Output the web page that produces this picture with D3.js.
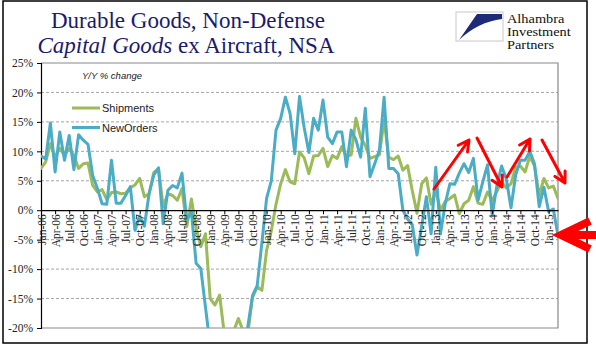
<!DOCTYPE html>
<html>
<head>
<meta charset="utf-8">
<script src="https://cdn.jsdelivr.net/npm/d3@7"></script>
<style>
  html, body { margin: 0; padding: 0; background: #ffffff; }
  svg { display: block; }
</style>
</head>
<body>
<svg id="chart" width="596" height="358"></svg>
<script>
// ---------------- DATA ----------------
const monthNames = ["Jan","Feb","Mar","Apr","May","Jun","Jul","Aug","Sep","Oct","Nov","Dec"];
const startYear = 2006, monthCount = 111; // Jan-06 .. Mar-15
const categories = [];
for (let k = 0; k < monthCount; k++) {
  const yr = startYear + Math.floor(k / 12);
  categories.push(monthNames[k % 12] + "-" + String(yr % 100).padStart(2, "0"));
}

const tickLabels = ["Jan-06","Apr-06","Jul-06","Oct-06","Jan-07","Apr-07","Jul-07","Oct-07",
  "Jan-08","Apr-08","Jul-08","Oct-08","Jan-09","Apr-09","Jul-09","Oct-09",
  "Jan-10","Apr-10","Jul-10","Oct-10","Jan-11","Apr-11","Jul-11","Oct-11",
  "Jan-12","Apr-12","Jul-12","Oct-12","Jan-13","Apr-13","Jul-13","Oct-13",
  "Jan-14","Apr-14","Jul-14","Oct-14","Jan-15"];

const yTicks = [-20, -15, -10, -5, 0, 5, 10, 15, 20, 25];
const gridValues = [-15, -10, -5, 5, 10, 15, 20];

const shipments = [
  7.1, 8.2, 11.3, 9.1, 10.5, 9.3, 10.5, 9.3, 7.1, 7.9, 8.0, 4.2,
  3.1, 3.5, 1.8, 3.0, 3.1, 2.8, 2.9, 3.8, 4.3, 5.4, 2.3, 2.8,
  6.4, 7.0, 0.6, 2.8, 2.5, 1.7, 3.7, -2.8, 1.9, -3.0, -6.2, -4.0,
  -15.0, -16.1, -14.4, -21, -22, -20.5, -18.4, -20.5, -21, -14.8, -13.0, -13.6,
  -6.8, -3.5, 1.0, 4.5, 6.9, 4.8, 4.5, 9.9, 8.9, 6.2, 9.2, 9.3,
  10.5, 7.4, 9.3, 8.8, 10.8, 9.1, 9.4, 15.6, 12.4, 11.0, 8.8, 9.1,
  9.4, 15.3, 9.0, 8.6, 9.2, 6.8, 7.6, 3.3, -0.5, 4.5, 5.5, 1.0,
  3.2, 0.0, 1.5, 2.0, 2.6, -0.6, 1.1, 1.7, 4.0, 1.2, 1.0, 3.1,
  1.7, 3.2, 4.8, 3.8, 4.5, 7.3, 7.5, 6.5, 9.2, 7.5, 2.5, 5.4,
  3.8, 4.1, 2.0
];

const newOrders = [
  9.2, 8.7, 14.8, 6.5, 13.3, 8.5, 12.7, 6.9, 12.8, 11.9, 11.2, 5.9,
  3.7, 1.1, 1.0, 8.5, 1.2, 1.2, 2.5, 4.0, -3.4, -1.0, -2.7, 2.8,
  6.0, 7.2, -2.3, 3.4, 4.2, 3.8, 6.3, -1.7, -0.3, -9.0, -9.9, -16.5,
  -23, -27, -30, -32, -33, -31, -28, -25, -19.8, -14.5, -12.8, -5.5,
  2.0, 5.0, 13.6, 15.6, 19.2, 16.4, 9.6, 19.3, 14.0, 9.8, 15.6, 13.6,
  18.7, 12.4, 11.3, 13.3, 13.3, 7.4, 13.6, 12.0, 9.0, 17.3, 5.7, 7.9,
  10.2, 19.2, 7.1, 7.1, 6.2, 0.0, -1.5, -2.5, -7.6, -2.7, 2.3, -4.0,
  7.3, -4.0, 1.1, 4.5, 4.4, 6.3, 7.9, 6.4, 8.8, 1.7, 4.8, 7.7,
  -0.8, 4.2, 7.5, 5.3, 0.4, 6.0, 8.5, 8.5, 10.0, 7.9, 0.6, 3.9,
  -0.2, 0.2, -4.3
];

const seriesNames = ["Shipments", "NewOrders"];
const seriesColors = ["#9BBB59", "#4BACC6"];
const logoLines = ["Alhambra", "Investment", "Partners"];

// ---------------- LAYOUT ----------------
const svg = d3.select("#chart");
const plot = { left: 41, right: 558, top: 63, bottom: 328 };

const x = d3.scalePoint().domain(categories).range([plot.left, plot.right]);
const y = d3.scaleLinear().domain([-20, 25]).range([plot.bottom, plot.top]);

// Outer frame
svg.append("rect").attr("x", 3).attr("y", 1).attr("width", 584).attr("height", 342)
  .attr("fill", "#fff").attr("stroke", "#000").attr("stroke-width", 1.5);

// Titles
const title = svg.append("g").attr("font-family", "'Liberation Serif', 'Times New Roman', serif")
  .attr("fill", "#1B1B6E");
title.append("text").attr("x", 188).attr("y", 28).attr("text-anchor", "middle")
  .attr("font-size", 23).text("Durable Goods, Non-Defense");
const t2 = title.append("text").attr("x", 186).attr("y", 53).attr("text-anchor", "middle")
  .attr("font-size", 23);
t2.append("tspan").attr("font-style", "italic").text("Capital Goods");
t2.append("tspan").text(" ex Aircraft, NSA");

// Logo
const logo = svg.append("g");
logo.append("rect").attr("x", 456).attr("y", 12).attr("width", 47).attr("height", 29)
  .attr("fill", "#fff").attr("stroke", "#c8c8c8").attr("stroke-width", 1);
logo.append("path")
  .attr("d", "M477,14 L502,14 L502,19 Q478,22 459,40 Z")
  .attr("fill", "#1C2A78");
const logoText = logo.append("text")
  .attr("transform", "translate(507,0) scale(1.25,1)")
  .attr("font-family", "'Liberation Serif', 'Times New Roman', serif")
  .attr("font-size", 11.5).attr("fill", "#111");
logoLines.forEach((t, k) => {
  logoText.append("tspan").attr("x", 0).attr("y", 23 + k * 12.8).text(t);
});

// Gridlines
svg.append("g").selectAll("line").data(gridValues).join("line")
  .attr("x1", plot.left).attr("x2", plot.right)
  .attr("y1", d => y(d)).attr("y2", d => y(d))
  .attr("stroke", "#a6a6a6").attr("stroke-width", 1).attr("stroke-dasharray", "3,2");

// Plot border (top, right, bottom) in gray
svg.append("path")
  .attr("d", `M${plot.left},${y(25)} H${plot.right} V${y(-20)} H${plot.left}`)
  .attr("fill", "none").attr("stroke", "#888").attr("stroke-width", 1.2);

// Y axis
const yAxis = svg.append("g").attr("transform", `translate(${plot.left},0)`)
  .call(d3.axisLeft(y).tickValues(yTicks).tickSize(4).tickPadding(4)
    .tickFormat(d => d + "%"));
yAxis.select(".domain").attr("stroke", "#000").attr("stroke-width", 1.2);
yAxis.selectAll(".tick line").attr("stroke", "#000");
yAxis.selectAll("text").attr("font-family", "'Liberation Serif', 'Times New Roman', serif")
  .attr("font-size", 11.5).attr("fill", "#222");

// Series lines (clipped to the plot area)
svg.append("clipPath").attr("id", "plotclip").append("rect")
  .attr("x", plot.left).attr("y", plot.top)
  .attr("width", plot.right - plot.left).attr("height", plot.bottom - plot.top);

const line = d3.line().x((d, i) => x(categories[i])).y(d => y(d));
const lines = svg.append("g").attr("clip-path", "url(#plotclip)");
[shipments, newOrders].forEach((s, k) => {
  lines.append("path").datum(s).attr("d", line)
    .attr("fill", "none").attr("stroke", seriesColors[k]).attr("stroke-width", 3)
    .attr("stroke-linejoin", "round").attr("stroke-linecap", "round");
});

// X axis at 0%
const xAxis = svg.append("g").attr("transform", `translate(0,${y(0)})`)
  .call(d3.axisBottom(x).tickValues(tickLabels).tickSize(4).tickSizeOuter(0));
xAxis.select(".domain").attr("stroke", "#000").attr("stroke-width", 1.2);
xAxis.selectAll(".tick line").attr("stroke", "#000");
xAxis.selectAll("text")
  .attr("font-family", "'Liberation Serif', 'Times New Roman', serif")
  .attr("font-size", 11.5).attr("fill", "#222")
  .attr("text-anchor", "end")
  .attr("transform", "rotate(-90)")
  .attr("x", -4).attr("y", 0).attr("dy", "0.35em");

// Annotation and legend
svg.append("text").attr("x", 82).attr("y", 79)
  .attr("font-family", "'Liberation Sans', Arial, sans-serif")
  .attr("font-style", "italic").attr("font-size", 9.5).attr("fill", "#222")
  .text("Y/Y % change");

const legend = svg.append("g").attr("font-family", "'Liberation Sans', Arial, sans-serif")
  .attr("font-size", 11).attr("fill", "#222");
seriesNames.forEach((name, k) => {
  const ly = 108 + k * 19.5;
  legend.append("line").attr("x1", 72).attr("x2", 100).attr("y1", ly).attr("y2", ly)
    .attr("stroke", seriesColors[k]).attr("stroke-width", 3);
  legend.append("text").attr("x", 102).attr("y", ly + 4).text(name);
});

// Red arrows
const arrows = svg.append("g").attr("stroke", "#FF0000").attr("fill", "none")
  .attr("stroke-linecap", "round").attr("stroke-linejoin", "round");
function arrow(x1, y1, x2, y2, w, head) {
  const a = Math.atan2(y2 - y1, x2 - x1);
  const h1 = [x2 - head * Math.cos(a - 0.5), y2 - head * Math.sin(a - 0.5)];
  const h2 = [x2 - head * Math.cos(a + 0.5), y2 - head * Math.sin(a + 0.5)];
  arrows.append("path")
    .attr("d", `M${x1},${y1} L${x2},${y2} M${h1[0]},${h1[1]} L${x2},${y2} L${h2[0]},${h2[1]}`)
    .attr("stroke-width", w);
}
arrow(434, 189, 469, 140, 3, 12);
arrow(477, 138, 502, 187, 3, 12);
arrow(507, 177, 530, 139, 3, 12);
arrow(542, 140, 565, 183, 3, 12);
// Big arrow at the last point
arrows.append("path")
  .attr("d", "M590,221 L561,235 L590,249 M561,235 L598,235")
  .attr("stroke-width", 8).attr("stroke-linecap", "butt").attr("stroke-linejoin", "miter");
</script>
</body>
</html>
